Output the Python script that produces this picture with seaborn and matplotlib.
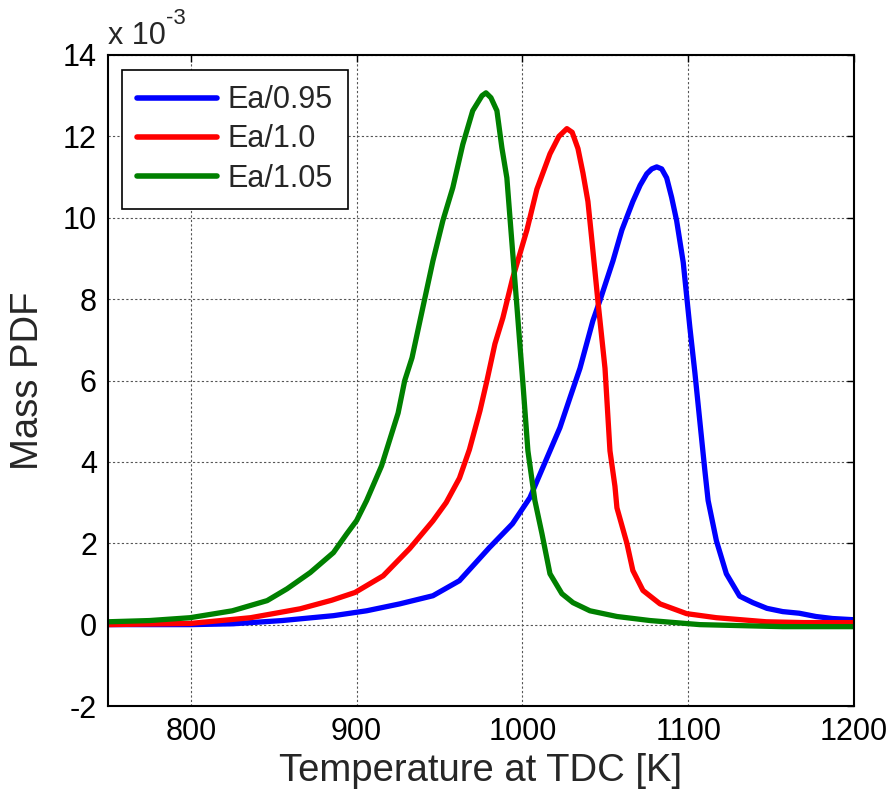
import numpy as np
import pandas as pd
import matplotlib
matplotlib.use("Agg")
import matplotlib.pyplot as plt
import seaborn as sns

# ---- data (Mass PDF in units of 1e-3) ----
blue_T = [750, 800, 825, 855, 886, 906, 926, 946, 962, 980, 994, 1004.5, 1016.6, 1022.6,
          1028.7, 1034.7, 1042.5, 1046.7, 1054.6, 1060, 1066.6, 1071, 1075, 1078, 1081, 1084,
          1087, 1090, 1093, 1097, 1101, 1104, 1107, 1110, 1112, 1117, 1123, 1131, 1139,
          1147.5, 1157, 1167, 1177, 1187, 1200]
blue_y = [0, 0, 0.02, 0.1, 0.22, 0.34, 0.51, 0.71, 1.08, 1.89, 2.48, 3.12, 4.27, 4.84,
          5.58, 6.3, 7.47, 7.96, 8.94, 9.7, 10.4, 10.8, 11.08, 11.2, 11.25, 11.2,
          10.98, 10.5, 9.93, 8.9, 7.3, 6.2, 5.0, 3.8, 3.05, 2.06, 1.25, 0.7, 0.54,
          0.4, 0.32, 0.28, 0.2, 0.15, 0.12]

red_T = [750, 800, 836, 866, 885, 899, 916, 932, 946, 954, 962, 968, 974.4, 978.6, 983.4,
         988.2, 994, 1002.7, 1008.7, 1016.6, 1022, 1026.8, 1030, 1033.5, 1036.5, 1039.5,
         1042, 1045.5, 1049.8, 1052.8, 1055.8, 1057, 1063, 1066.6, 1072.7, 1083, 1099,
         1117, 1147, 1170, 1200]
red_y = [0, 0.03, 0.17, 0.39, 0.6, 0.79, 1.2, 1.87, 2.55, 3.0, 3.6, 4.3, 5.26, 6.0, 6.9,
         7.54, 8.5, 9.7, 10.7, 11.57, 12.0, 12.19, 12.1, 11.7, 11.1, 10.4,
         9.4, 7.96, 6.3, 4.27, 3.4, 2.87, 2.0, 1.33, 0.84, 0.51, 0.27,
         0.17, 0.07, 0.05, 0.05]

green_T = [750, 775, 799.5, 825, 846, 858, 872, 886, 894, 900, 906, 915, 925, 929, 933.4,
           938.2, 946, 952, 958, 964, 970, 975.6, 978, 981, 984.6, 987.6, 990.6, 993.7,
           996.7, 1000.3, 1003.3, 1007.5, 1011.8, 1016.6, 1023.8, 1030.5, 1040.7, 1057,
           1077, 1107, 1157, 1200]
green_y = [0.07, 0.1, 0.17, 0.34, 0.59, 0.88, 1.28, 1.77, 2.23, 2.56, 3.05, 3.9, 5.2, 6.0,
           6.56, 7.47, 8.94, 9.93, 10.74, 11.8, 12.63, 13.0, 13.07, 12.95, 12.63, 11.72,
           10.98, 9.36, 7.8, 5.92, 4.27, 3.05, 2.23, 1.25, 0.76, 0.54, 0.34, 0.2,
           0.1, 0.0, -0.05, -0.05]

labels = ["Ea/0.95", "Ea/1.0", "Ea/1.05"]
colors = ["#0000FF", "#FF0000", "#008000"]

x_ticks = [800, 900, 1000, 1100, 1200]
y_ticks = [-2, 0, 2, 4, 6, 8, 10, 12, 14]

df = pd.concat([
    pd.DataFrame({"T": blue_T, "pdf": blue_y, "case": labels[0]}),
    pd.DataFrame({"T": red_T, "pdf": red_y, "case": labels[1]}),
    pd.DataFrame({"T": green_T, "pdf": green_y, "case": labels[2]}),
], ignore_index=True)

sns.set_style("white")
plt.rcParams["font.family"] = ["Liberation Sans", "DejaVu Sans"]
plt.rcParams["axes.unicode_minus"] = False

fig = plt.figure(figsize=(8.94, 7.95), dpi=100)
ax = fig.add_axes([108 / 894, 1 - 706 / 795, (854 - 108) / 894, (706 - 55) / 795])

sns.lineplot(data=df, x="T", y="pdf", hue="case", hue_order=labels,
             palette=dict(zip(labels, colors)), linewidth=3.8, ax=ax,
             sort=False, estimator=None)

ax.set_xlim(750, 1200)
ax.set_ylim(-2, 14)
ax.set_xticks(x_ticks)
ax.set_yticks(y_ticks)
ax.tick_params(axis="both", direction="in", length=5, width=1, labelsize=22,
               top=True, right=True, colors="black", pad=8)
ax.grid(True, color="#555555", linestyle=(0, (2, 2)), linewidth=0.8)
for s in ax.spines.values():
    s.set_visible(True)
    s.set_color("black")
    s.set_linewidth(1.5)

ax.set_xlabel("Temperature at TDC [K]", fontsize=27.5, labelpad=4)
ax.set_ylabel("Mass PDF", fontsize=27.5, labelpad=12)

leg = ax.legend(loc="upper left", bbox_to_anchor=(0.0188, 0.977), borderaxespad=0,
                fontsize=22, frameon=True, fancybox=False, framealpha=1,
                edgecolor="black", handlelength=2.6, handletextpad=0.35,
                labelspacing=0.3, borderpad=0.5, title=None)
leg.get_frame().set_linewidth(1.2)
for line in leg.get_lines():
    line.set_linewidth(4)

fig.text(108 / 894, 1 - 44 / 795, "x 10", fontsize=22, ha="left", va="baseline")
fig.text(166 / 894, 1 - 24 / 795, "-3", fontsize=16, ha="left", va="baseline")

fig.savefig("out.png", dpi=100, facecolor="white")
